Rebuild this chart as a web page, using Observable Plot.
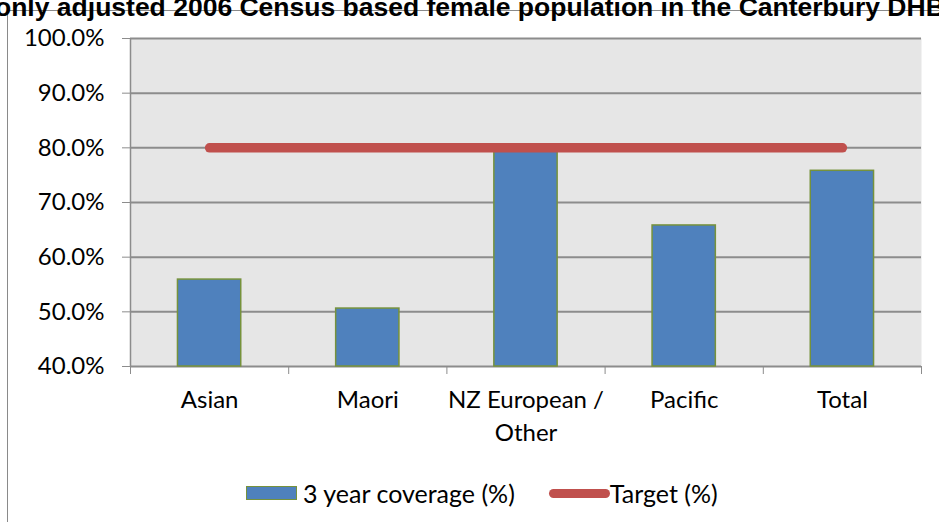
<!DOCTYPE html>
<html>
<head>
<meta charset="utf-8">
<script src="https://cdn.jsdelivr.net/npm/d3@7"></script>
<script src="https://cdn.jsdelivr.net/npm/@observablehq/plot@0.6"></script>
<style>
  html, body { margin: 0; padding: 0; background: #fff; }
  #wrap { position: relative; width: 939px; height: 522px; overflow: hidden; background: #fff; }
  #title { position: absolute; left: -5px; top: -8px; white-space: nowrap;
           font: bold 26.5px "Liberation Sans", Arial, sans-serif; color: #000; }
  #border { position: absolute; left: 7px; top: 10px; width: 1000px; height: 600px;
            border-left: 1.3px solid #8a8a8a; border-top: 1.3px solid #8a8a8a; }
  #chart { position: absolute; left: 0; top: 0; }
  #legend { position: absolute; left: 246px; top: 478px; display: flex; align-items: center;
            font: 25px Lato, sans-serif; color: #000; white-space: nowrap; }
  .sw-bar { width: 49px; height: 12px; background: #4f81bd; border: 1.5px solid #76923c; margin-right: 6px; }
  .sw-line { width: 61px; height: 9px; background: #c0504d; border-radius: 5px; margin-left: 34px; }
</style>
</head>
<body>
<div id="wrap">
  <div id="border"></div>
  <div id="title">only adjusted 2006 Census based female population in the Canterbury DHB</div>
  <div id="chart"></div>
  <div id="legend"></div>
</div>
<script>
const categories = ["Asian", "Maori", "NZ European / Other", "Pacific", "Total"];
const coverage = [55.9, 50.6, 79.5, 65.8, 75.8];
const target = [80, 80, 80, 80, 80];
const yTicks = [40, 50, 60, 70, 80, 90, 100];
const seriesNames = ["3 year coverage (%)", "Target (%)"];

const data = categories.map((c, i) => ({i, category: c, coverage: coverage[i], target: target[i]}));

const chart = Plot.plot({
  width: 939,
  height: 470,
  marginLeft: 130,
  marginRight: 18,
  marginTop: 38,
  marginBottom: 104,
  style: {fontFamily: "Lato, sans-serif", fontSize: "24px", color: "#000", background: "transparent"},
  x: {type: "linear", domain: [0, categories.length]},
  y: {domain: [40, 100]},
  marks: [
    Plot.frame({fill: "#e6e6e6", stroke: null}),
    Plot.ruleY(yTicks, {stroke: "#8c8c8c", strokeWidth: 2}),
    Plot.ruleX([0], {y1: 40, y2: 100, stroke: "#8c8c8c", strokeWidth: 1.5}),
    Plot.axisY({ticks: yTicks, tickSize: 8, tickPadding: 18, stroke: "#8c8c8c",
                tickFormat: d => d.toFixed(1) + "%", label: null, fontSize: 24}),
    Plot.axisX({ticks: d3.range(categories.length + 1), tickSize: 8, stroke: "#8c8c8c",
                tickFormat: () => "", label: null}),
    Plot.rectY(data, {x1: d => d.i + 0.3, x2: d => d.i + 0.7, y1: 40, y2: "coverage",
                      fill: "#4f81bd", stroke: "#76923c", strokeWidth: 1.5}),
    Plot.line(data, {x: d => d.i + 0.5, y: "target", stroke: "#c0504d",
                     strokeWidth: 9.5, strokeLinecap: "round"}),
    Plot.text(data, {x: d => d.i + 0.5, y: 40, text: d => d.category.replace("/ ", "/\n"),
                     lineAnchor: "top", dy: 18, lineHeight: 1.38, fill: "#000", fontSize: 24})
  ]
});
document.getElementById("chart").appendChild(chart);

const legend = document.getElementById("legend");
legend.innerHTML =
  `<div class="sw-bar"></div><span>${seriesNames[0]}</span>` +
  `<div class="sw-line"></div><span>${seriesNames[1]}</span>`;
</script>
</body>
</html>
